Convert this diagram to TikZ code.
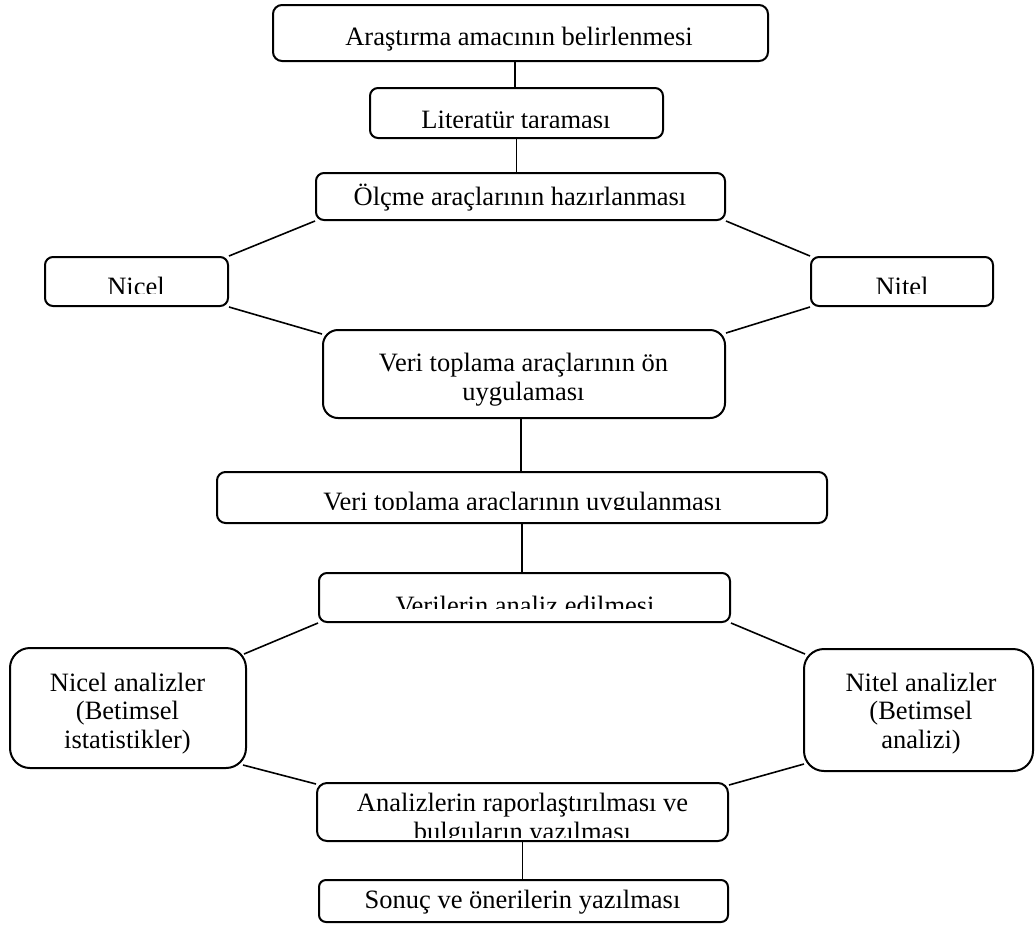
\documentclass[tikz,border=0pt]{standalone}
\usepackage{fontspec}
\setmainfont{Liberation Serif}
\usetikzlibrary{backgrounds}
\begin{document}
\begin{tikzpicture}[x=1pt,y=-1pt,
  box/.style={draw=black, line width=2pt, fill=white, rounded corners=#1, inner sep=0pt},
  txt/.style={font=\fontsize{26.5}{28.5}\selectfont, inner sep=0pt, anchor=base, align=center},
  link/.style={draw=black, line width=1.6pt}]
\useasboundingbox (0,0) rectangle (1035,924);
% boxes
\node[box=9pt,  minimum width=495pt, minimum height=56pt]  (b1)  at (520.5,33) {};
\node[box=8pt,  minimum width=293pt, minimum height=50pt]  (b2)  at (516.5,113) {};
\node[box=8pt,  minimum width=409pt, minimum height=47pt]  (b3)  at (520.5,196.5) {};
\node[box=8pt,  minimum width=183pt, minimum height=49pt]  (nicel) at (136.5,281.5) {};
\node[box=8pt,  minimum width=182pt, minimum height=49pt]  (nitel) at (902,281.5) {};
\node[box=15pt, minimum width=402pt, minimum height=88pt]  (b6)  at (524,374) {};
\node[box=8.5pt,minimum width=610pt, minimum height=51pt]  (b7)  at (522,497.5) {};
\node[box=8pt,  minimum width=411pt, minimum height=49pt]  (b8)  at (524.5,597.5) {};
\node[box=20pt, minimum width=236pt, minimum height=120pt] (na)  at (128,708) {};
\node[box=20pt, minimum width=229pt, minimum height=122pt] (ta)  at (918.5,710) {};
\node[box=10pt, minimum width=411pt, minimum height=58pt]  (b9)  at (522.5,812) {};
\node[box=7pt,  minimum width=409pt, minimum height=42pt]  (b10) at (523.5,901) {};
% connectors
\begin{pgfonlayer}{background}
\draw[link] ([xshift=-5.5pt]b1.south) -- ([xshift=-5.5pt]b1.south |- b2.north);
\draw[link] (b2.south) -- (b2.south |- b3.north);
\draw[link] (b3.south west) -- (nicel.north east);
\draw[link] (nicel.south east) -- ([shift={(0,5)}]b6.north west);
\draw[link] (b3.south east) -- (nitel.north west);
\draw[link] (nitel.south west) -- ([shift={(0,4)}]b6.north east);
\draw[link] ([xshift=-3pt]b6.south) -- ([xshift=-3pt]b6.south |- b7.north);
\draw[link] (b7.south) -- (b7.south |- b8.north);
\draw[link] (b8.south west) -- ([shift={(-3,7)}]na.north east);
\draw[link] ([shift={(-4,-4)}]na.south east) -- ([shift={(0,2)}]b9.north west);
\draw[link] (b8.south east) -- ([shift={(2,6)}]ta.north west);
\draw[link] ([shift={(1,-8)}]ta.south west) -- ([shift={(0,3)}]b9.north east);
\draw[link] (b9.south) -- (b9.south |- b10.north);
\end{pgfonlayer}
% texts
\node[txt] (t1) at (519,45) {Araştırma amacının belirlenmesi};
\begin{scope}
  \clip (370,88) rectangle (663,127);
  \node[txt] (t2) at (516,128) {Literatür taraması};
\end{scope}
\node[txt] (t3) at (520,205) {Ölçme araçlarının hazırlanması};
\begin{scope}
  \clip (45,257) rectangle (228,293);
  \node[txt] (t4) at (136,295) {Nicel};
\end{scope}
\begin{scope}
  \clip (811,257) rectangle (993,293);
  \node[txt] (t5) at (902,295) {Nitel};
\end{scope}
\node[txt] (t6) at (523.5,400) {Veri toplama araçlarının ön\\uygulaması};
\begin{scope}
  \clip (217,472) rectangle (827,509);
  \node[txt] (t7) at (522.5,510) {Veri toplama araçlarının uygulanması};
\end{scope}
\begin{scope}
  \clip (319,573) rectangle (730,608);
  \node[txt] (t8) at (525,614) {Verilerin analiz edilmesi};
\end{scope}
\node[txt] (t9) at (127.5,748) {Nicel analizler\\(Betimsel\\istatistikler)};
\node[txt] (t10) at (921,748) {Nitel analizler\\(Betimsel\\analizi)};
\begin{scope}
  \clip (317,783) rectangle (728,837);
  \node[txt] (t11) at (522.5,840) {Analizlerin raporlaştırılması ve\\bulguların yazılması};
\end{scope}
\node[txt] (t12) at (522.5,908) {Sonuç ve önerilerin yazılması};
\end{tikzpicture}
\end{document}
